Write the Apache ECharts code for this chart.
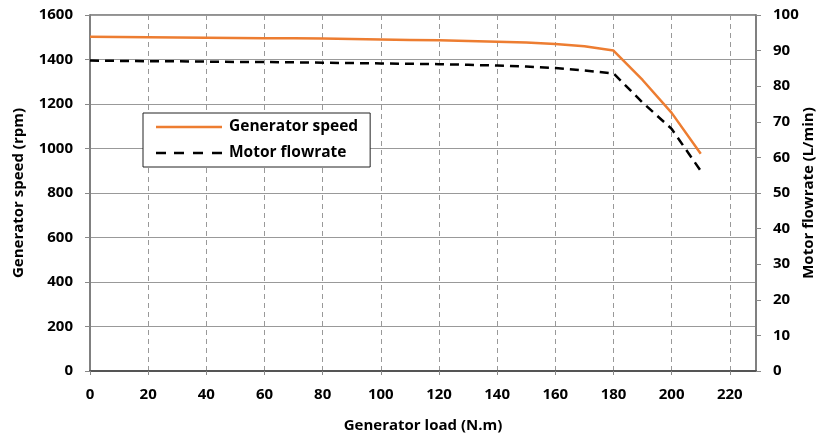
<!DOCTYPE html>
<html>
<head>
<meta charset="utf-8">
<script src="https://cdn.jsdelivr.net/npm/echarts@6/dist/echarts.min.js"></script>
<style>
  html, body { margin: 0; padding: 0; background: #fff; }
  #chart { width: 820px; height: 437px; }
</style>
</head>
<body>
<div id="chart"></div>
<script>
// generator load (N.m)
const loads = [0, 10, 20, 30, 40, 50, 60, 70, 80, 90, 100, 110, 120, 130, 140, 150, 160, 170, 180, 190, 200, 210];
// generator speed (rpm)
const genSpeed = [1502, 1501, 1500, 1499, 1498, 1497, 1496, 1495, 1494, 1492, 1490, 1488, 1486, 1483, 1480, 1476, 1470, 1460, 1440, 1308, 1160, 976];
// motor flowrate (L/min)
const flowrate = [87.2, 87.1, 87.0, 87.0, 86.9, 86.8, 86.8, 86.7, 86.6, 86.5, 86.4, 86.3, 86.2, 86.0, 85.8, 85.5, 85.1, 84.4, 83.6, 75.4, 68.0, 56.2];

const font = '"Open Sans", "DejaVu Sans", sans-serif';
const labelStyle = { fontSize: 15, fontWeight: 'bold', color: '#000' };
const titleStyle = { fontSize: 15, fontWeight: 'bold', color: '#000' };

let chart = echarts.init(document.getElementById('chart'));
let option = {
  animation: false,
  textStyle: { fontFamily: font },
  grid: {
    left: 90,
    right: 64,
    top: 15,
    bottom: 66,
    outerBoundsMode: 'none',
    show: true,
    borderColor: '#222',
    borderWidth: 1
  },
  legend: {
    left: 143,
    top: 113,
    orient: 'vertical',
    padding: [6, 12, 6, 13],
    itemGap: 10,
    itemWidth: 66,
    itemHeight: 10,
    borderColor: '#222',
    borderWidth: 1,
    backgroundColor: '#fff',
    textStyle: { fontSize: 15.5, fontWeight: 'bold', color: '#000', fontFamily: font, padding: [0, 0, 0, 2] },
    data: [
      { name: 'Generator speed', icon: 'path://M0,3.8 L66,3.8 L66,6.2 L0,6.2 Z' },
      { name: 'Motor flowrate', icon: 'path://M0,3.7 h10 v2.6 h-10 Z M18,3.7 h10 v2.6 h-10 Z M37,3.7 h10 v2.6 h-10 Z M56,3.7 h10 v2.6 h-10 Z' }
    ]
  },
  xAxis: {
    type: 'value',
    min: 0,
    max: 229,
    interval: 20,
    name: 'Generator load (N.m)',
    nameLocation: 'middle',
    nameGap: 47,
    nameTextStyle: titleStyle,
    axisLine: { lineStyle: { color: '#555', width: 2 } },
    axisTick: { show: true, length: 4, lineStyle: { color: '#888' } },
    axisLabel: Object.assign({ margin: 16, showMaxLabel: false }, labelStyle),
    splitLine: { show: true, lineStyle: { color: '#999', type: [5, 4] } }
  },
  yAxis: [
    {
      type: 'value',
      min: 0,
      max: 1600,
      interval: 200,
      name: 'Generator speed (rpm)',
      nameLocation: 'middle',
      nameGap: 64,
      nameTextStyle: titleStyle,
      axisLine: { show: true, lineStyle: { color: '#808080', width: 2 } },
      axisTick: { show: true, length: 5, lineStyle: { color: '#888' } },
      axisLabel: Object.assign({ margin: 17, formatter: v => String(v) }, labelStyle),
      splitLine: { show: true, lineStyle: { color: '#999', width: 1 } }
    },
    {
      type: 'value',
      min: 0,
      max: 100,
      interval: 10,
      name: 'Motor flowrate (L/min)',
      nameLocation: 'middle',
      nameGap: 45,
      nameRotate: 90,
      nameMoveOverlap: false,
      nameTextStyle: titleStyle,
      axisLine: { show: true, lineStyle: { color: '#808080', width: 2 } },
      axisTick: { show: true, length: 5, lineStyle: { color: '#888' } },
      axisLabel: Object.assign({ margin: 17 }, labelStyle),
      splitLine: { show: false }
    }
  ],
  series: [
    {
      name: 'Generator speed',
      type: 'line',
      yAxisIndex: 0,
      symbol: 'none',
      lineStyle: { color: '#ED7D31', width: 2.5 },
      itemStyle: { color: '#ED7D31' },
      data: loads.map((x, i) => [x, genSpeed[i]])
    },
    {
      name: 'Motor flowrate',
      type: 'line',
      yAxisIndex: 1,
      symbol: 'none',
      lineStyle: { color: '#000', width: 2.5, type: [9, 6] },
      itemStyle: { color: '#000' },
      data: loads.map((x, i) => [x, flowrate[i]])
    }
  ]
};
chart.setOption(option);
</script>
</body>
</html>
